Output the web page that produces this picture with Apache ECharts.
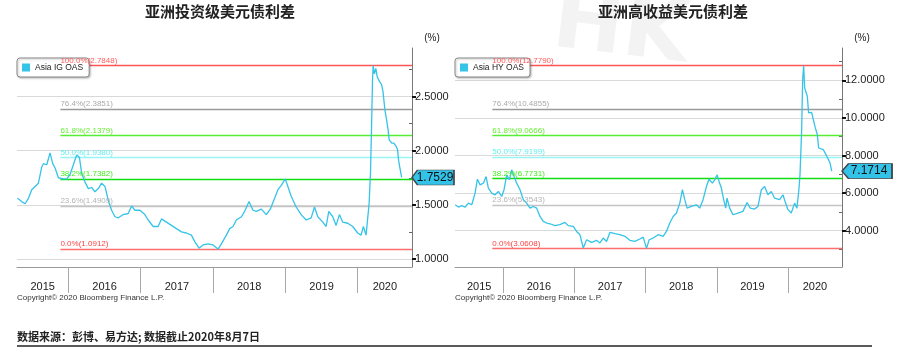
<!DOCTYPE html>
<html>
<head>
<meta charset="utf-8">
<script src="https://cdn.jsdelivr.net/npm/echarts@6/dist/echarts.min.js"></script>
<style>
  html, body { margin: 0; padding: 0; background: #fff; }
  #main { width: 903px; height: 354px; }
</style>
</head>
<body>
<div id="main"></div>
<script>
// 年份分隔（每年1月1日）
const years = [2016, 2017, 2018, 2019, 2020];

// 斐波那契回撤位
const fibNames = ['100.0%', '76.4%', '61.8%', '50.0%', '38.2%', '23.6%', '0.0%'];
const igFib = [2.7848, 2.3851, 2.1379, 1.9380, 1.7382, 1.4909, 1.0912];
const hyFib = [12.7790, 10.4855, 9.0666, 7.9199, 6.7731, 5.3543, 3.0608];

// y轴刻度
const igTicks = [1.0, 1.5, 2.0, 2.5];
const igMinor = [1.25, 1.75, 2.25, 2.75];
const hyTicks = [4, 6, 8, 10, 12];
const hyMinor = [3, 5, 7, 9, 11, 13];

// Asia IG OAS（时间以小数年表示）
const igX = [2015.297, 2015.356, 2015.402, 2015.448, 2015.494, 2015.540, 2015.586, 2015.632, 2015.655, 2015.701,
  2015.747, 2015.784, 2015.816, 2015.862, 2015.931, 2015.977, 2016.023, 2016.069, 2016.115, 2016.152,
  2016.184, 2016.230, 2016.276, 2016.322, 2016.368, 2016.414, 2016.460, 2016.506, 2016.552, 2016.598,
  2016.644, 2016.690, 2016.759, 2016.828, 2016.874, 2016.920, 2016.989, 2017.057, 2017.103, 2017.172,
  2017.241, 2017.287, 2017.356, 2017.425, 2017.494, 2017.563, 2017.632, 2017.701, 2017.747, 2017.807,
  2017.862, 2017.931, 2018.000, 2018.069, 2018.115, 2018.184, 2018.230, 2018.276, 2018.322, 2018.391,
  2018.437, 2018.497, 2018.552, 2018.598, 2018.667, 2018.736, 2018.791, 2018.851, 2018.897, 2018.943,
  2018.998, 2019.034, 2019.080, 2019.149, 2019.218, 2019.287, 2019.356, 2019.402, 2019.448, 2019.517,
  2019.563, 2019.600, 2019.655, 2019.701, 2019.747, 2019.793, 2019.862, 2019.931, 2020.000, 2020.046,
  2020.078, 2020.115, 2020.138, 2020.157, 2020.176, 2020.190, 2020.204, 2020.213, 2020.230, 2020.250,
  2020.270, 2020.300, 2020.330, 2020.350, 2020.375, 2020.400, 2020.420, 2020.435, 2020.470, 2020.500,
  2020.530, 2020.550, 2020.565, 2020.580, 2020.607];
const igY = [1.56, 1.53, 1.51, 1.56, 1.64, 1.67, 1.70, 1.85, 1.88, 1.87,
  1.98, 1.88, 1.84, 1.75, 1.74, 1.74, 1.78, 1.87, 1.96, 1.94,
  1.79, 1.71, 1.65, 1.66, 1.62, 1.65, 1.70, 1.67, 1.54, 1.45,
  1.39, 1.38, 1.41, 1.42, 1.49, 1.45, 1.45, 1.41, 1.36, 1.30,
  1.30, 1.37, 1.34, 1.31, 1.28, 1.25, 1.24, 1.22, 1.16, 1.10,
  1.13, 1.14, 1.13, 1.0912, 1.14, 1.22, 1.28, 1.30, 1.36, 1.39,
  1.44, 1.53, 1.45, 1.44, 1.46, 1.41, 1.46, 1.56, 1.64, 1.68,
  1.74, 1.67, 1.58, 1.48, 1.41, 1.36, 1.38, 1.48, 1.39, 1.34,
  1.30, 1.44, 1.39, 1.31, 1.41, 1.34, 1.33, 1.30, 1.24, 1.22,
  1.30, 1.22, 1.23, 1.51, 1.79, 2.19, 2.65, 2.7848, 2.71, 2.76,
  2.68, 2.64, 2.61, 2.54, 2.38, 2.28, 2.19, 2.10, 2.07, 2.07,
  2.04, 2.01, 1.91, 1.85, 1.7529];

// Asia HY OAS
const hyX = [2015.322, 2015.368, 2015.415, 2015.462, 2015.509, 2015.556, 2015.602, 2015.635, 2015.673, 2015.719,
  2015.757, 2015.789, 2015.836, 2015.883, 2015.930, 2015.977, 2016.009, 2016.047, 2016.084, 2016.117,
  2016.150, 2016.187, 2016.234, 2016.281, 2016.327, 2016.374, 2016.421, 2016.468, 2016.515, 2016.561,
  2016.608, 2016.655, 2016.725, 2016.795, 2016.865, 2016.912, 2016.982, 2017.029, 2017.076, 2017.123,
  2017.170, 2017.240, 2017.310, 2017.357, 2017.404, 2017.450, 2017.497, 2017.567, 2017.637, 2017.708,
  2017.778, 2017.848, 2017.918, 2017.965, 2018.012, 2018.049, 2018.105, 2018.175, 2018.246, 2018.292,
  2018.339, 2018.386, 2018.433, 2018.480, 2018.517, 2018.550, 2018.582, 2018.643, 2018.713, 2018.760,
  2018.807, 2018.854, 2018.891, 2018.938, 2018.971, 2019.004, 2019.032, 2019.064, 2019.097, 2019.125,
  2019.144, 2019.181, 2019.228, 2019.298, 2019.368, 2019.425, 2019.471, 2019.532, 2019.579, 2019.626,
  2019.673, 2019.719, 2019.766, 2019.813, 2019.883, 2019.930, 2019.967, 2020.000, 2020.047, 2020.094,
  2020.126, 2020.154, 2020.170, 2020.193, 2020.207, 2020.221, 2020.235, 2020.254, 2020.272, 2020.291,
  2020.310, 2020.333, 2020.357, 2020.385, 2020.413, 2020.432, 2020.460, 2020.498, 2020.535, 2020.563,
  2020.592, 2020.615];
const hyY = [5.38, 5.26, 5.33, 5.26, 5.47, 5.38, 6.00, 6.74, 6.44, 6.53,
  6.88, 6.27, 6.00, 5.91, 6.09, 5.82, 6.18, 6.97, 6.71, 7.24,
  6.88, 6.53, 6.18, 5.65, 5.47, 5.20, 5.29, 5.20, 4.76, 4.50,
  4.41, 4.37, 4.27, 4.32, 4.44, 4.27, 4.23, 3.96, 3.79, 3.08,
  3.52, 3.38, 3.49, 3.35, 3.61, 3.43, 3.91, 3.84, 3.79, 3.70,
  3.49, 3.43, 3.56, 3.66, 3.0608, 3.52, 3.61, 3.79, 3.70, 3.96,
  4.41, 4.76, 4.94, 5.47, 6.18, 5.65, 5.20, 5.29, 5.38, 5.20,
  5.65, 6.35, 6.74, 6.53, 6.71, 6.97, 6.62, 6.27, 5.65, 5.20,
  5.73, 5.20, 4.85, 4.94, 5.03, 5.50, 5.20, 5.15, 5.29, 6.18,
  6.35, 5.91, 6.09, 5.73, 5.65, 5.91, 5.47, 5.12, 4.94, 5.47,
  5.20, 6.18, 7.00, 9.38, 12.04, 12.779, 11.60, 11.68, 11.15, 10.27,
  10.35, 10.30, 9.91, 9.47, 9.11, 8.40, 8.49, 8.31, 8.05, 7.96,
  7.60, 7.1714];

const LINE = '#35c3e8';
const FONT = 'Liberation Sans';
const CJK = 'Noto Sans CJK SC';
const GRIDC = '#d9d9d9';
const fibLine = ['#ff5555', '#9a9a9a', '#55ee33', '#99f5f5', '#11dd11', '#c4c4c4', '#ff6e6e'];
const fibText = ['#ff5c5c', '#aaaaaa', '#66ee33', '#66eeee', '#44ee22', '#b4b4b4', '#ff4444'];

const charts = [
  { name: 'Asia IG OAS', x: igX, y: igY, fib: igFib, ticks: igTicks, minor: igMinor,
    xMin: 2015.29, xMax: 2020.75, yMin: 0.926, yMax: 2.948, fibStart: 2015.89,
    left: 17, width: 395, tagW: 42 },
  { name: 'Asia HY OAS', x: hyX, y: hyY, fib: hyFib, ticks: hyTicks, minor: hyMinor,
    xMin: 2015.32, xMax: 2020.76, yMin: 2.07, yMax: 13.72, fibStart: 2015.845,
    left: 455, width: 387, tagW: 50 }
];

const option = {
  animation: false,
  backgroundColor: '#fff',
  title: [
    { text: '亚洲投资级美元债利差', left: 220, top: 4, textAlign: 'center', padding: 0,
      textStyle: { fontSize: 15, fontWeight: 'bold', fontFamily: CJK, color: '#222' } },
    { text: '亚洲高收益美元债利差', left: 673, top: 4, textAlign: 'center', padding: 0,
      textStyle: { fontSize: 15, fontWeight: 'bold', fontFamily: CJK, color: '#222' } },
    { text: 'Copyright© 2020 Bloomberg Finance L.P.', left: 17, top: 294, padding: 0,
      textStyle: { fontSize: 8, fontWeight: 'normal', fontFamily: FONT, color: '#333' } },
    { text: 'Copyright© 2020 Bloomberg Finance L.P.', left: 455, top: 294, padding: 0,
      textStyle: { fontSize: 8, fontWeight: 'normal', fontFamily: FONT, color: '#333' } },
    { text: '数据来源：彭博、易方达; 数据截止2020年8月7日', left: 17, top: 331, padding: 0,
      textStyle: { fontSize: 11, fontWeight: 'bold', fontFamily: CJK, color: '#222' } }
  ],
  graphic: [
    { type: 'text', left: 548, top: -18, z: -10, rotation: -0.12,
      style: { text: 'HK', fontSize: 84, fontWeight: 'bold', fontFamily: 'DejaVu Sans', fill: '#f3f3f3' } },
    { type: 'line', shape: { x1: 17, y1: 346, x2: 872, y2: 346 },
      style: { stroke: '#5a5a5a', lineWidth: 2 } }
  ],
  legend: [],
  grid: [],
  xAxis: [],
  yAxis: [],
  series: []
};

// 只承载 markLine 的空序列
function levelSeries(i, name, color, width, items) {
  return {
    type: 'line', name: name, xAxisIndex: i, yAxisIndex: 2 * i, data: [], silent: true, color: color,
    markLine: { symbol: 'none', silent: true, z: 1, animation: false,
      lineStyle: { color: color, width: width, type: 'solid', opacity: 1 },
      label: { show: false },
      emphasis: { disabled: true },
      data: items }
  };
}

charts.forEach(function (c, i) {
  const mids = [(c.xMin + years[0]) / 2].concat(
    years.slice(0, -1).map(function (y) { return y + 0.5; }),
    [(years[years.length - 1] + c.xMax) / 2]);
  const last = c.y[c.y.length - 1];

  option.grid.push({ left: c.left, top: 48, width: c.width, height: 219 });

  option.legend.push({
    data: [c.name], left: c.left, top: 58, z: 3, icon: 'rect', itemWidth: 8, itemHeight: 8,
    padding: [5, 6, 5, 5], backgroundColor: '#fff',
    borderColor: '#8a8a8a', borderWidth: 1, borderRadius: 3,
    shadowBlur: 2, shadowColor: 'rgba(0,0,0,0.25)', shadowOffsetX: 1, shadowOffsetY: 1,
    selectedMode: false,
    textStyle: { fontSize: 8.5, fontFamily: FONT, color: '#222' }
  });

  option.xAxis.push({
    gridIndex: i, type: 'value', min: c.xMin, max: c.xMax,
    axisLine: { show: true, lineStyle: { color: '#9a9a9a' } },
    axisTick: { show: true, customValues: years, length: 26, lineStyle: { color: '#a8a8a8' } },
    axisLabel: { customValues: mids, margin: 14, fontSize: 11, fontFamily: FONT, color: '#222',
      formatter: function (v) { return String(Math.floor(v)); } },
    splitLine: { show: false }
  });

  option.yAxis.push({
    gridIndex: i, type: 'value', position: 'right', min: c.yMin, max: c.yMax,
    name: '(%)', nameLocation: 'end', nameGap: 5,
    nameTextStyle: { fontSize: 10, fontFamily: FONT, color: '#222', padding: [0, 0, 0, 40] },
    axisLine: { show: true, lineStyle: { color: '#777' } },
    axisTick: { show: true, customValues: c.ticks, length: 4, lineStyle: { color: '#111', width: 2 } },
    axisLabel: { customValues: c.ticks, margin: 3, fontSize: 11, fontFamily: FONT, color: '#222',
      formatter: function (v) { return v.toFixed(4); } },
    splitLine: { show: false }
  });
  option.yAxis.push({
    gridIndex: i, type: 'value', position: 'right', min: c.yMin, max: c.yMax,
    axisLine: { show: false },
    axisTick: { show: true, customValues: c.minor, inside: true, length: 3, lineStyle: { color: '#666' } },
    axisLabel: { show: false },
    splitLine: { show: false }
  });

  // 网格线
  option.series.push(levelSeries(i, 'grid' + i, GRIDC, 1, c.ticks.map(function (v) {
    return [{ coord: [c.xMin, v] }, { coord: [c.xMax, v] }];
  })));

  // 回撤线，每一档单独一个序列以固定颜色
  c.fib.forEach(function (v, k) {
    option.series.push(levelSeries(i, 'fib' + i + '_' + k, fibLine[k], 1.4,
      [[{ coord: [c.fibStart, v] }, { coord: [c.xMax, v] }]]));
  });

  // 回撤标签（透明线承载，叠在图例之上）
  option.series.push({
    type: 'line', name: 'labels' + i, xAxisIndex: i, yAxisIndex: 2 * i, data: [], silent: true,
    markLine: { symbol: 'none', silent: true, z: 6, animation: false,
      data: c.fib.map(function (v, k) {
        return [{ coord: [c.fibStart, v],
                  lineStyle: { color: 'rgba(255,255,255,0)', width: 1, type: 'solid' },
                  label: { show: true, position: 'insideStartTop', distance: [0, 1],
                    formatter: fibNames[k] + '(' + v.toFixed(4) + ')',
                    color: fibText[k], fontSize: 8, fontFamily: FONT } },
                { coord: [c.xMax, v] }];
      }) }
  });

  option.series.push({
    type: 'line', name: c.name, xAxisIndex: i, yAxisIndex: 2 * i, z: 3, clip: false,
    data: c.x.map(function (x, k) { return [x, c.y[k]]; }),
    showSymbol: false, symbol: 'none',
    lineStyle: { color: LINE, width: 1.3 }, itemStyle: { color: LINE },
    markPoint: {
      silent: true, animation: false,
      symbol: 'path://M0,7 L6,0 L46,0 L46,14 L6,14 Z',
      symbolSize: [c.tagW, 15], symbolOffset: [c.tagW / 2, 0], symbolKeepAspect: false,
      itemStyle: { color: '#33c3e9', borderColor: '#444', borderWidth: 1 },
      label: { show: true, position: 'inside', offset: [2, 0], fontSize: 12, fontFamily: FONT, color: '#111',
        formatter: function () { return last.toFixed(4); } },
      data: [{ coord: [c.xMax, last] }]
    }
  });
});

const myChart = echarts.init(document.getElementById('main'));
myChart.setOption(option);
</script>
</body>
</html>
